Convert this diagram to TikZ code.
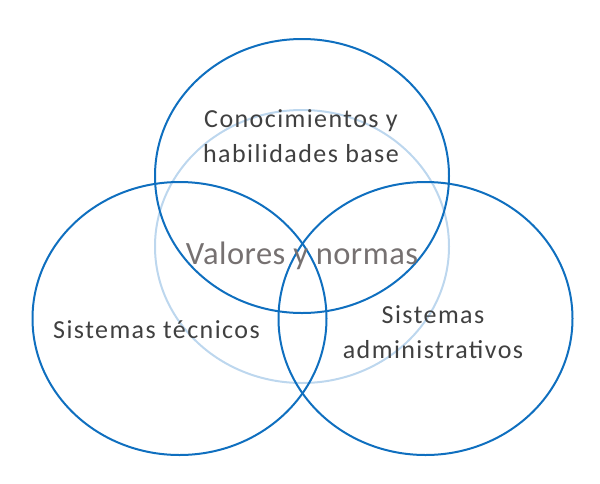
\documentclass[tikz,border=0pt]{standalone}
\usepackage{fontspec}
\setmainfont{Carlito}
\newfontfamily\lsfont[LetterSpace=5.5]{Carlito}
\newfontfamily\lsbig[LetterSpace=1.5]{Carlito}
\definecolor{dblue}{HTML}{0F6FBF}
\definecolor{lblue}{HTML}{BDD7EE}
\definecolor{txt}{HTML}{404040}
\definecolor{gtxt}{HTML}{767171}
\begin{document}
\begin{tikzpicture}[x=1pt,y=-1pt,
  ring/.style={draw=dblue,line width=2pt},
  lring/.style={draw=lblue,line width=2pt},
  lbl/.style={text=txt,font=\lsfont\fontsize{26}{35}\selectfont,align=center},
  big/.style={text=gtxt,font=\lsbig\fontsize{32.5}{38}\selectfont,align=center}]
\useasboundingbox (0,0) rectangle (600,483);
\draw[lring] (302,246.5) ellipse [x radius=147, y radius=136.5];
\draw[ring] (302,176) ellipse [x radius=147, y radius=137];
\draw[ring] (179.5,318.5) ellipse [x radius=147, y radius=136.5];
\draw[ring] (425.5,318.5) ellipse [x radius=147, y radius=136.5];
\node[lbl] (con) at (301,136) {Conocimientos y\\habilidades base};
\node[big] (val) at (302,256) {Valores y normas};
\node[lbl] (tec) at (156.5,330) {Sistemas técnicos};
\node[lbl] (adm) at (433,332) {Sistemas\\administrativos};
\end{tikzpicture}
\end{document}
